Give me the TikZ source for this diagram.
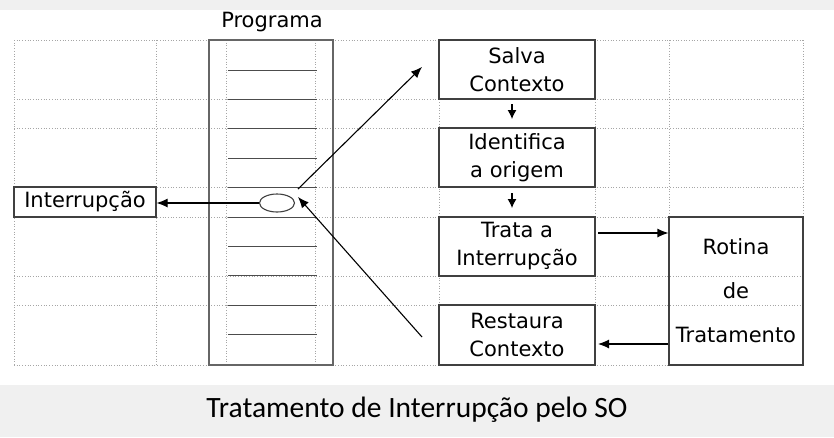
\documentclass[tikz,border=0pt]{standalone}
\usepackage{fontspec}
\setmainfont{DejaVu Sans}
\newfontfamily\legenda{Carlito}
\usetikzlibrary{shapes.geometric,arrows.meta}

\tikzset{
  grade/.style={draw=black!35,dotted,line width=0.7pt},
  seta/.style={-{Latex[length=11pt,width=9pt]},line width=1.1pt},
  setinha/.style={-{Latex[length=9pt,width=9pt]},line width=1.1pt},
}

\begin{document}
\begin{tikzpicture}[x=1pt,y=-1pt]
  \useasboundingbox (0,0) rectangle (834,437);
  \fill[black!6] (0,0) rectangle (834,10);
  \fill[black!6] (0,385) rectangle (834,437);

  % grade pontilhada
  \foreach \y in {40,99,128,187,217,276,305,365}
    \draw[grade] (14,\y) -- (803,\y);
  \foreach \x in {14,156,226,315,439,595,669,803}
    \draw[grade] (\x,40) -- (\x,365);

  % programa
  \node[draw=black!60,line width=1.1pt,minimum width=124pt,minimum height=325pt] (prog) at (271,202.5) {};
  \node[font=\fontsize{21}{24}\selectfont] (rotulo) at (272,22) {Programa};
  \foreach \i in {0,...,9}
    \draw[black!70,line width=0.9pt] (228,70+29.4*\i) -- (317,70+29.4*\i);

  \begin{scope}[every node/.style={draw=black!75,line width=1.1pt,inner sep=0pt,align=center,font=\fontsize{21}{28}\selectfont}]
    \node[minimum width=142pt,minimum height=30pt] (interr) at (85,202) {Interrupção};
    \node[ellipse,fill=white,minimum width=35pt,minimum height=18pt] (evento) at (277,203) {};
    \node[minimum width=156pt,minimum height=59pt] (salva) at (517,69.5) {Salva\\Contexto};
    \node[minimum width=156pt,minimum height=59pt] (ident) at (517,157.5) {Identifica\\ a origem};
    \node[minimum width=156pt,minimum height=59pt] (trata) at (517,246.5) {Trata a\\Interrupção};
    \node[minimum width=156pt,minimum height=60pt] (restaura) at (517,335) {Restaura\\Contexto};
    \node[minimum width=134pt,minimum height=148pt,font=\fontsize{21}{44}\selectfont] (rotina) at (736,291) {Rotina\\de\\Tratamento};
  \end{scope}

  \coordinate (saida) at (298,189);
  \coordinate (volta) at (298,197);
  \coordinate (ida) at (422,67);
  \coordinate (fim) at (422,337);
  \coordinate (s1) at (512,104);
  \coordinate (s2) at (512,119);
  \coordinate (i1) at (512,193);
  \coordinate (i2) at (512,208);
  \coordinate (t1) at (598,233);
  \coordinate (r1) at (598,344);

  \begin{scope}[every path/.style={draw=black}]
    \path[seta] (evento.west) -- (interr.east |- evento.west);
    \path[seta] (saida) -- (ida);
    \path[seta] (fim) -- (volta);
    \path[setinha] (s1) -- (s2);
    \path[setinha] (i1) -- (i2);
    \path[seta] (t1) -- (t1 -| rotina.west);
    \path[seta] (r1 -| rotina.west) -- (r1);
  \end{scope}

  \node[font=\legenda\fontsize{29.5}{32}\selectfont] (legenda) at (417,410) {Tratamento de Interrupção pelo SO};
\end{tikzpicture}
\end{document}
